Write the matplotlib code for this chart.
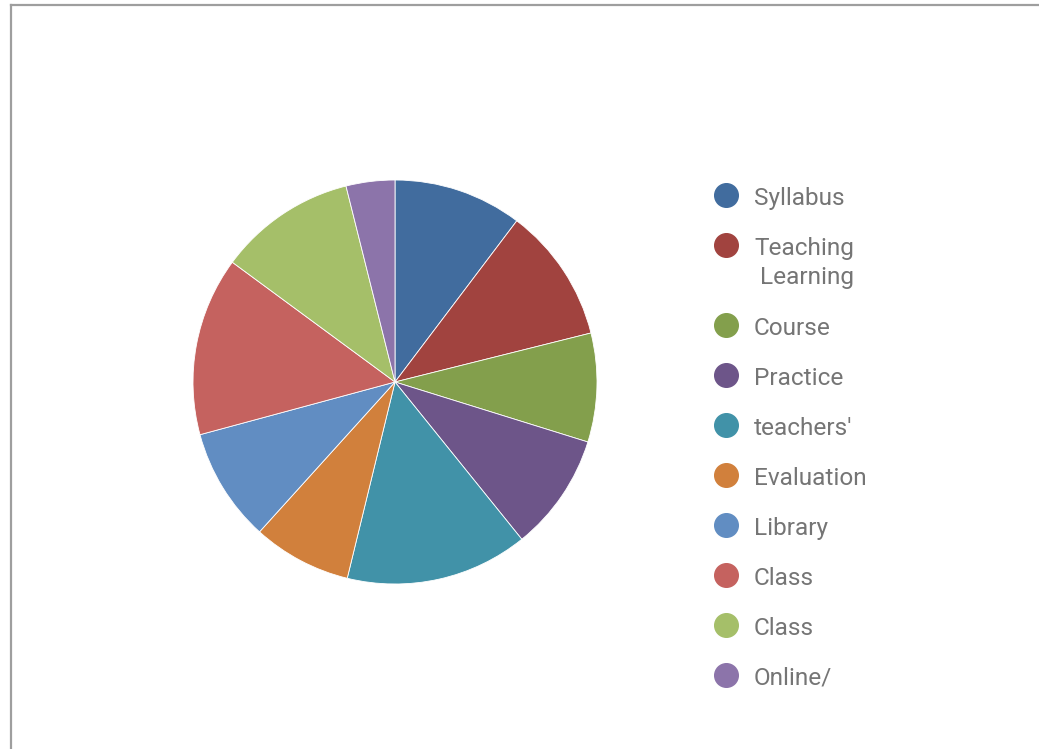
import matplotlib.pyplot as plt
from matplotlib.lines import Line2D

# data
labels = ["Syllabus", "Teaching\n Learning", "Course", "Practice", "teachers'",
          "Evaluation", "Library", "Class", "Class", "Online/"]
shares = [10.3, 10.8, 8.7, 9.4, 14.6, 7.9, 9.1, 14.3, 11.0, 3.9]
colors = ["#416c9e", "#a1433f", "#839f4c", "#6d5589", "#4192a8",
          "#d1803c", "#618dc2", "#c5625f", "#a5bf69", "#8c74aa"]

W, H = 1039, 749
fig = plt.figure(figsize=(W / 100, H / 100), dpi=100)
fig.patch.set_facecolor("white")

# pie centred at (395, 382) px, radius ~202 px
cx, cy, r = 395, 382, 202
ax = fig.add_axes([(cx - r) / W, 1 - (cy + r) / H, 2 * r / W, 2 * r / H])
ax.pie(shares, colors=colors, startangle=90, counterclock=False,
       wedgeprops=dict(edgecolor="white", linewidth=0.6))
ax.set_xlim(-1, 1)
ax.set_ylim(-1, 1)
ax.axis("off")

# legend drawn by hand
fs = 17.6
y = 195
for lab, col in zip(labels, colors):
    fig.add_artist(Line2D([726 / W], [1 - y / H], marker="o", markersize=17,
                          color=col, linestyle="none"))
    lines = lab.split("\n")
    for i, line in enumerate(lines):
        fig.text(754 / W, 1 - (y + 1 + 29 * i) / H, line, family="Roboto",
                 fontsize=fs, color="#757575", va="center_baseline")
    y += 50 + 30 * (len(lines) - 1)

# frame: left and top edges only
fig.add_artist(Line2D([11 / W, 11 / W], [0, 1 - 5 / H], color="#9e9e9e", lw=1.6))
fig.add_artist(Line2D([11 / W, 1], [1 - 5 / H, 1 - 5 / H], color="#9e9e9e", lw=1.6))

plt.savefig("out.png", dpi=100)
